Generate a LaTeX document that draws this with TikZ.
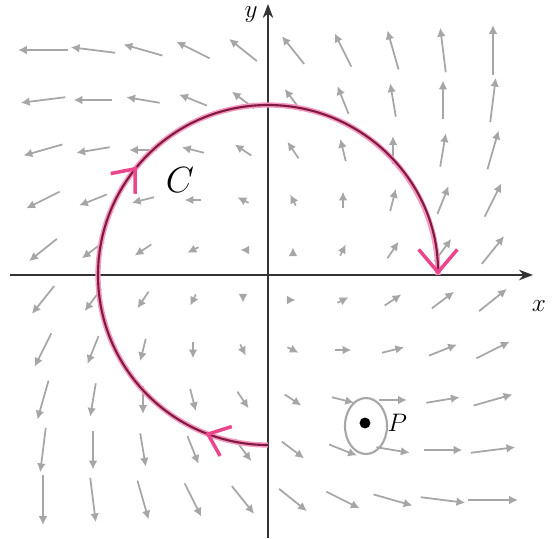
\documentclass[tikz,border=0pt]{standalone}
\usetikzlibrary{arrows.meta,decorations.markings}
\definecolor{curvedark}{RGB}{130,25,65}
\definecolor{curvepink}{RGB}{235,70,140}
\begin{document}
\begin{tikzpicture}[
    vec/.style={draw=gray!70,line width=1pt,-{Latex[length=5pt,width=5pt]}},
    axis/.style={draw=black!80,line width=1.1pt,-{Stealth[length=8pt,width=6pt]}},
    barb/.style={curvepink,line width=2pt},
    halo/.style={curvepink!55,line width=3pt}
    ]
\useasboundingbox (-5.36,-5.26) rectangle (5.70,5.50);
% vector field F = (x-y, x+y)
\foreach \x in {-4.5,-3.5,...,4.5}
  \foreach \y in {-4.5,-3.5,...,4.5}
    \draw[vec] ({\x-(\x-\y)/18},{\y-(\x+\y)/18}) -- ({\x+(\x-\y)/18},{\y+(\x+\y)/18});
% axes
\coordinate (xs) at (-5.16,0);
\coordinate (xe) at (5.30,0);
\coordinate (ys) at (0,-5.26);
\coordinate (ye) at (0,5.42);
\draw[axis] (xs) -- (xe);
\draw[axis] (ys) -- (ye);
\node[font=\Large] (xlab) at (5.42,-0.62) {$x$};
\node[font=\Large] (ylab) at (-0.34,5.2) {$y$};
% curve C
\draw[halo] (0,-3.4) arc[start angle=-90,end angle=-360,radius=3.4];
\draw[curvedark,line width=1.2pt,
      -{Straight Barb[length=13pt,width=22pt,color=curvepink,line width=2pt]},
      postaction={decorate},
      decoration={markings,
        mark=at position 0.08 with {\arrow[barb]{Straight Barb[length=11pt,width=18pt]}},
        mark=at position 0.48 with {\arrow[barb]{Straight Barb[length=11pt,width=18pt]}}}]
  (0,-3.4) arc[start angle=-90,end angle=-360,radius=3.4];
\node[font=\huge] (C) at (-1.76,1.9) {$C$};
% point P
\draw[gray!70,line width=1.2pt] (1.96,-3.02) ellipse[x radius=0.42,y radius=0.56];
\node[circle,fill,inner sep=2.2pt] (P) at (1.94,-2.96) {};
\node[font=\Large,right=6pt] (Plab) at (P.east) {$P$};
\end{tikzpicture}
\end{document}
